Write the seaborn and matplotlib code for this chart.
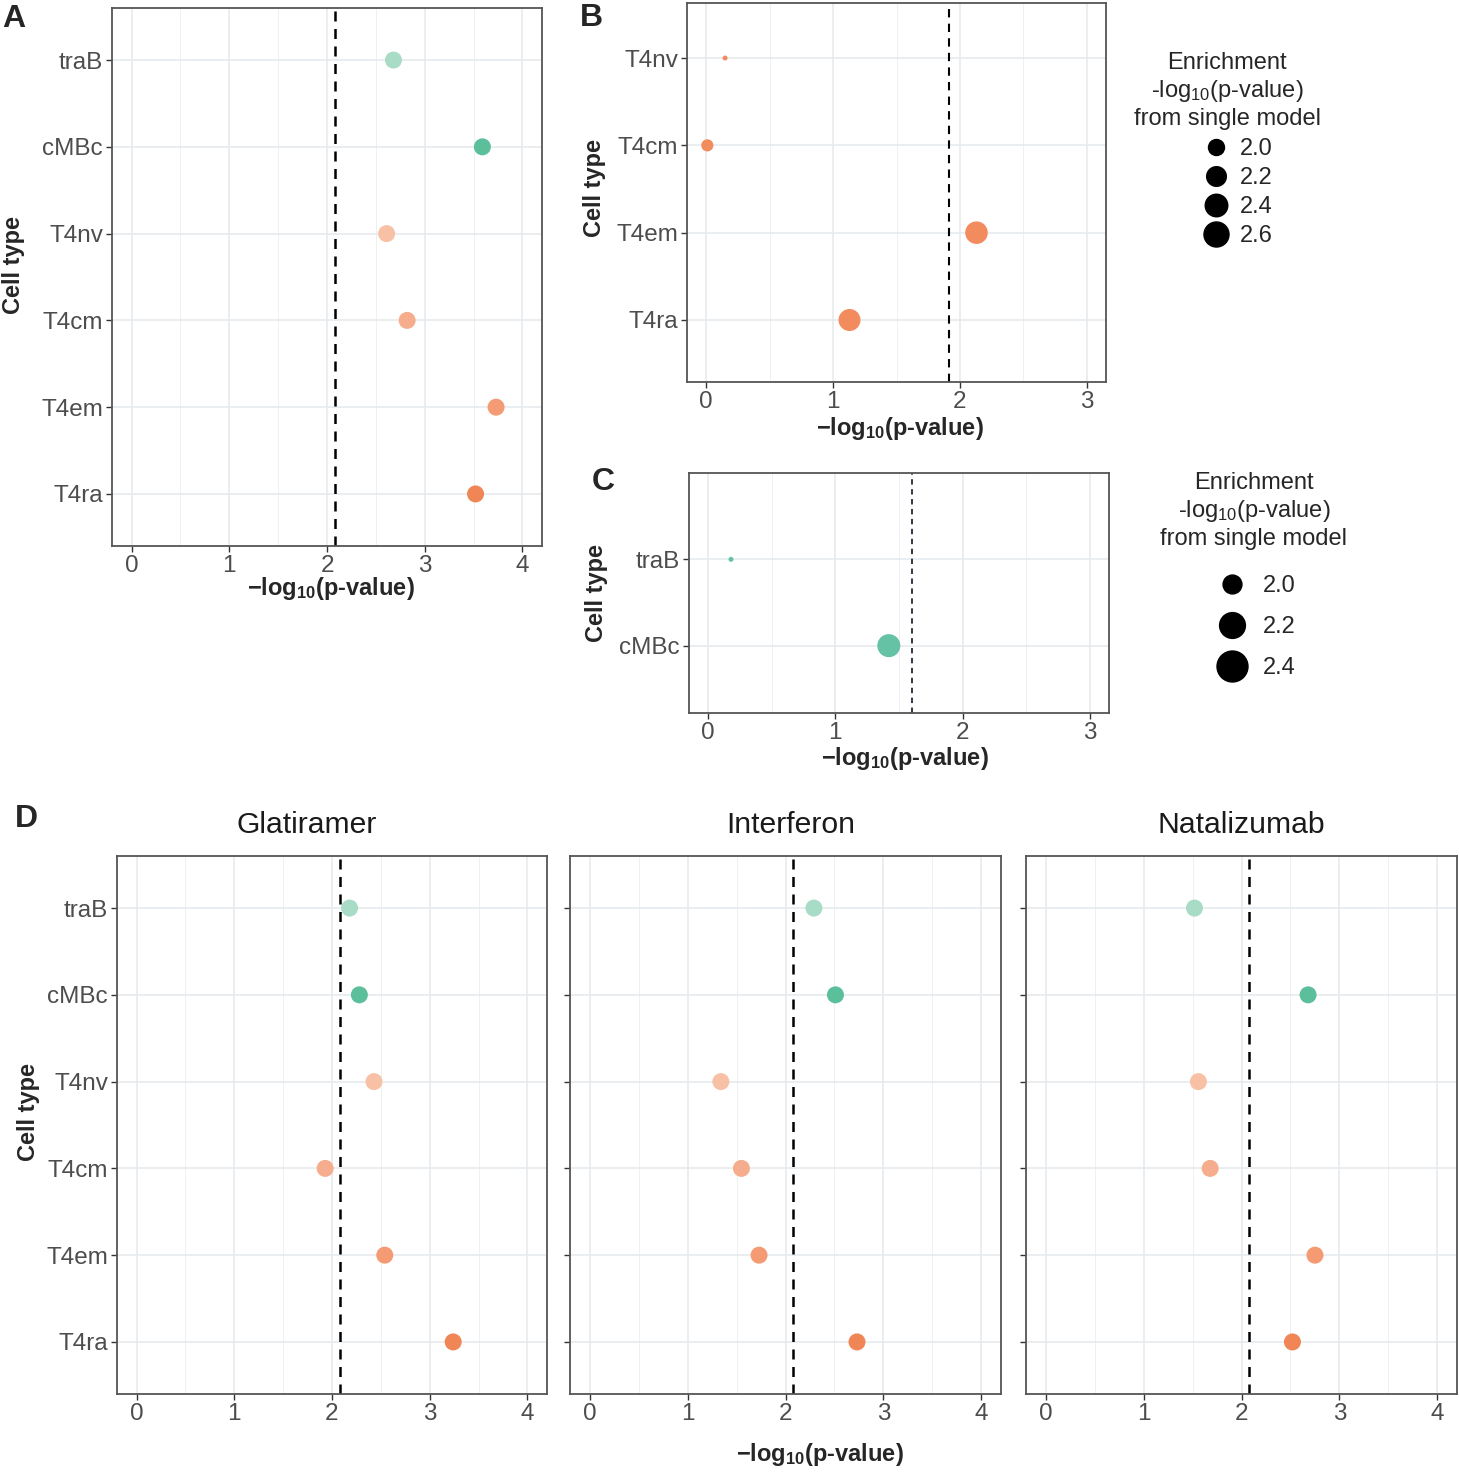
import numpy as np
import pandas as pd
import matplotlib
matplotlib.use("Agg")
import matplotlib.pyplot as plt
from matplotlib.lines import Line2D
import seaborn as sns

# ---------------- data ----------------
cell_types = ["traB", "cMBc", "T4nv", "T4cm", "T4em", "T4ra"]

a_logp = [2.68, 3.59, 2.61, 2.82, 3.73, 3.52]
a_threshold = 2.08

b_cells = ["T4nv", "T4cm", "T4em", "T4ra"]
b_logp = [0.15, 0.01, 2.13, 1.13]
b_enrich = [1.74, 1.85, 2.40, 2.36]
b_threshold = 1.91
b_legend_breaks = [2.0, 2.2, 2.4, 2.6]

c_cells = ["traB", "cMBc"]
c_logp = [0.18, 1.42]
c_enrich = [1.84, 2.11]
c_threshold = 1.60
c_legend_breaks = [2.0, 2.2, 2.4]

treatments = ["Glatiramer", "Interferon", "Natalizumab"]
glatiramer_logp = [2.18, 2.28, 2.43, 1.93, 2.54, 3.24]
interferon_logp = [2.29, 2.51, 1.34, 1.55, 1.73, 2.73]
natalizumab_logp = [1.52, 2.68, 1.56, 1.68, 2.75, 2.52]
d_thresholds = [2.08, 2.08, 2.08]

# ---------------- style ----------------
sns.set_style("white")
plt.rcParams["font.family"] = ["Liberation Sans", "DejaVu Sans"]
plt.rcParams["mathtext.fontset"] = "custom"
plt.rcParams["mathtext.rm"] = "Liberation Sans"
plt.rcParams["mathtext.it"] = "Liberation Sans:italic"
plt.rcParams["mathtext.bf"] = "Liberation Sans:bold"

palette = {"traB": "#a9dcc7", "cMBc": "#5cbf9c", "T4nv": "#f8c1a6",
           "T4cm": "#f6ad8d", "T4em": "#f49b74", "T4ra": "#f08556"}
b_color = "#f28b5e"
c_color = "#66c2a5"

W, H = 1459, 1473
fig = plt.figure(figsize=(W / 100, H / 100), dpi=100)


def rect(x0, y0, x1, y1):
    return [x0 / W, 1 - y1 / H, (x1 - x0) / W, (y1 - y0) / H]


def px2pt(d):
    return d * 0.72


def diam_b(v):
    return 5 + 21.6 * np.sqrt(max(v - 1.74, 0))


def diam_c(v):
    return 5 + 34.7 * np.sqrt(max(v - 1.84, 0))


def style_ax(ax, xmax, ylim, labels=True):
    ax.set_xlim(-0.05 * xmax, xmax * 1.05)
    ax.set_ylim(*ylim)
    ax.set_xticks(np.arange(0, xmax + 1, 1))
    ax.set_xticks(np.arange(0.5, xmax, 1), minor=True)
    ax.grid(which="major", color="#e6e9ec", lw=1.1)
    ax.grid(which="minor", axis="x", color="#eef0f2", lw=0.7)
    ax.set_axisbelow(True)
    ax.tick_params(which="major", length=4.5, width=1, color="#333333",
                   labelsize=17.5, labelcolor="#4d4d4d", pad=2,
                   left=True, bottom=True)
    ax.tick_params(which="minor", length=0)
    for s in ax.spines.values():
        s.set_color("#555555")
        s.set_linewidth(1.3)
    ax.set_xlabel("")
    ax.set_ylabel("")
    if not labels:
        ax.set_yticklabels([])


def ftext(x, y, s, **kw):
    fig.text(x / W, 1 - y / H, s, ha="center", va="center", **kw)


xlab = "\u2212log" + r"$_{\mathbf{10}}$" + "(p-value)"
legtitle = "Enrichment\n-log" + r"$_{10}$" + "(p-value)\nfrom single model"

# ---------------- Panel A ----------------
axA = fig.add_axes(rect(112, 8, 542, 546))
dfA = pd.DataFrame({"cell": cell_types, "logp": a_logp})
sns.scatterplot(data=dfA, x="logp", y="cell", hue="cell", palette=palette,
                s=px2pt(17) ** 2, linewidth=0, legend=False, ax=axA, zorder=3)
axA.axvline(a_threshold, color="black", ls=(0, (4, 3)), lw=1.8, zorder=2)
style_ax(axA, 4, (5.6, -0.6))

# ---------------- Panel B ----------------
axB = fig.add_axes(rect(687, 3, 1106, 382))
dfB = pd.DataFrame({"cell": b_cells, "logp": b_logp, "enrich": b_enrich})
sizesB = {v: px2pt(diam_b(v)) ** 2 for v in b_enrich}
sns.scatterplot(data=dfB, x="logp", y="cell", size="enrich", sizes=sizesB,
                color=b_color, linewidth=0, legend=False, ax=axB, zorder=3)
axB.axvline(b_threshold, color="black", ls=(0, (4, 3)), lw=1.5, zorder=2)
style_ax(axB, 3, (3.71, -0.63))

ftext(1227, 91, legtitle, fontsize=17, multialignment="center", linespacing=1.22)
hB = [Line2D([], [], marker="o", ls="", color="black",
             markersize=px2pt(diam_b(v))) for v in b_legend_breaks]
fig.legend(hB, [f"{v:.1f}" for v in b_legend_breaks],
           loc="center left", bbox_to_anchor=(1202 / W, 1 - 192.5 / H),
           frameon=False, fontsize=17, labelspacing=0.3, handletextpad=0.41,
           handlelength=1.2, borderpad=0, borderaxespad=0)

# ---------------- Panel C ----------------
axC = fig.add_axes(rect(689, 473, 1109, 713))
dfC = pd.DataFrame({"cell": c_cells, "logp": c_logp, "enrich": c_enrich})
sizesC = {v: px2pt(diam_c(v)) ** 2 for v in c_enrich}
sns.scatterplot(data=dfC, x="logp", y="cell", size="enrich", sizes=sizesC,
                color=c_color, linewidth=0, legend=False, ax=axC, zorder=3)
axC.axvline(c_threshold, color="#1c2a3a", ls=(0, (3, 2.5)), lw=1.3, zorder=2)
style_ax(axC, 3, (1.78, -1.0))

ftext(1254, 511, legtitle, fontsize=17, multialignment="center", linespacing=1.22)
hC = [Line2D([], [], marker="o", ls="", color="black",
             markersize=px2pt(diam_c(v))) for v in c_legend_breaks]
fig.legend(hC, [f"{v:.1f}" for v in c_legend_breaks],
           loc="center left", bbox_to_anchor=(1214 / W, 1 - 627 / H),
           frameon=False, fontsize=17, labelspacing=0.81, handletextpad=0.58,
           handlelength=1.5, borderpad=0, borderaxespad=0)

# ---------------- Panel D ----------------
d_values = [glatiramer_logp, interferon_logp, natalizumab_logp]
d_boxes = [(117, 856, 547, 1394), (570, 856, 1001, 1394), (1026, 856, 1457, 1394)]
title_x = [307, 791, 1241]
for i, (name, vals, thr, box) in enumerate(zip(treatments, d_values, d_thresholds, d_boxes)):
    ax = fig.add_axes(rect(*box))
    df = pd.DataFrame({"cell": cell_types, "logp": vals})
    sns.scatterplot(data=df, x="logp", y="cell", hue="cell", palette=palette,
                    s=px2pt(17) ** 2, linewidth=0, legend=False, ax=ax, zorder=3)
    ax.axvline(thr, color="black", ls=(0, (4, 3)), lw=1.8, zorder=2)
    style_ax(ax, 4, (5.6, -0.6), labels=(i == 0))
    ftext(title_x[i], 825, name, fontsize=21.7, color="#1a1a1a")

# ---------------- labels ----------------
ftext(14, 19, "A", fontsize=23, fontweight="bold")
ftext(591, 18, "B", fontsize=23, fontweight="bold")
ftext(603, 482, "C", fontsize=23, fontweight="bold")
ftext(26, 819, "D", fontsize=23, fontweight="bold")

ftext(14, 265, "Cell type", fontsize=17, fontweight="bold", rotation=90)
ftext(594, 188, "Cell type", fontsize=17, fontweight="bold", rotation=90)
ftext(597, 593, "Cell type", fontsize=17, fontweight="bold", rotation=90)
ftext(28, 1112, "Cell type", fontsize=17, fontweight="bold", rotation=90)

ftext(331, 588, xlab, fontsize=17, fontweight="bold")
ftext(900, 429, xlab, fontsize=17, fontweight="bold")
ftext(905, 759, xlab, fontsize=17, fontweight="bold")
ftext(820, 1454, xlab, fontsize=17, fontweight="bold")

fig.savefig("out.png", dpi=100)
